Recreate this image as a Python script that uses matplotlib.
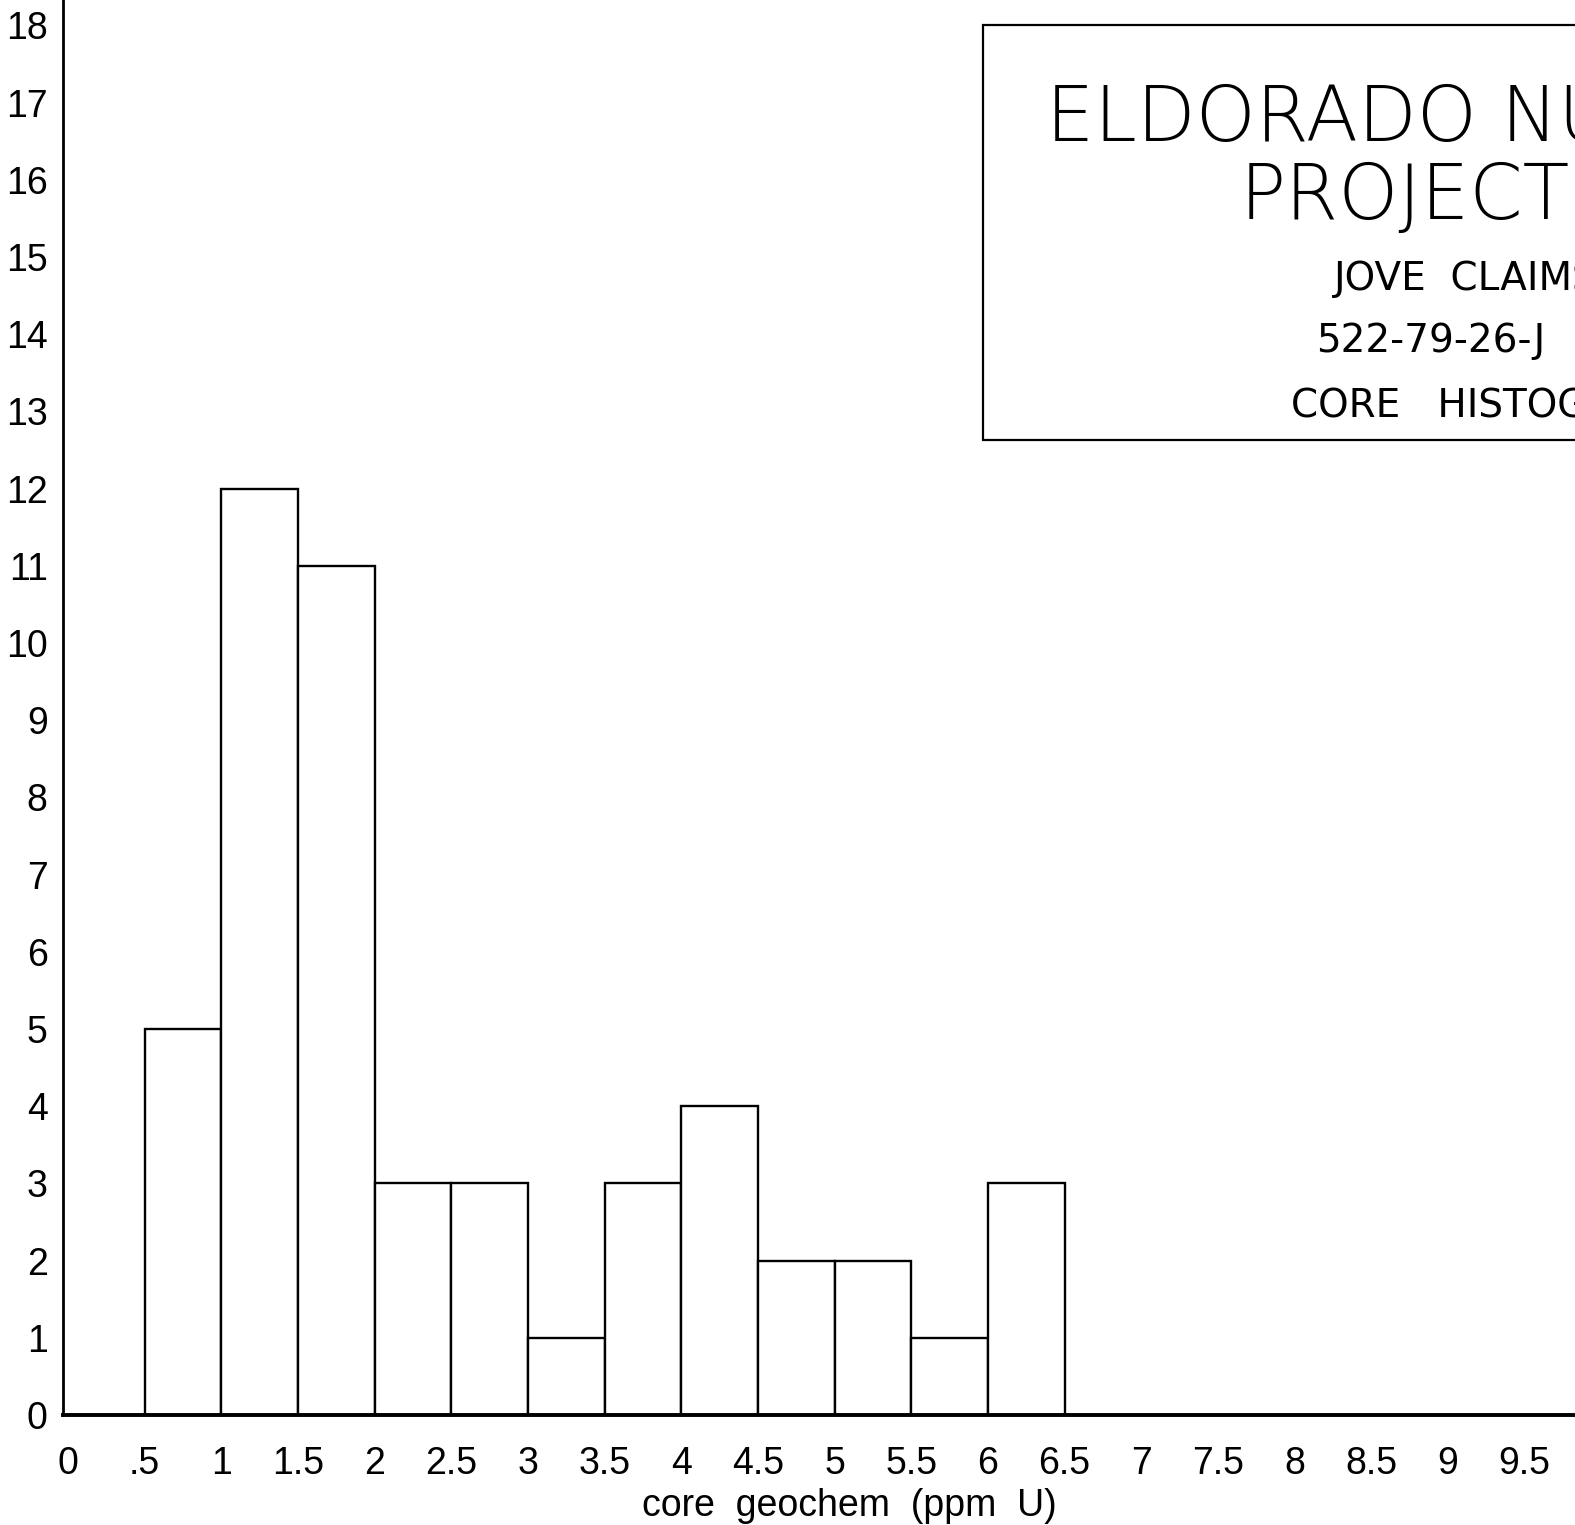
import matplotlib
matplotlib.use("Agg")
import matplotlib.pyplot as plt
from matplotlib.patches import Rectangle

# Histogram of core geochemistry (ppm U), bins 0.5 ppm wide
bin_edges = [0, 0.5, 1, 1.5, 2, 2.5, 3, 3.5, 4, 4.5, 5, 5.5, 6, 6.5]
counts = [0, 5, 12, 11, 3, 3, 1, 3, 4, 2, 2, 1, 3]

x_ticks = [0, 0.5, 1, 1.5, 2, 2.5, 3, 3.5, 4, 4.5, 5, 5.5, 6, 6.5, 7, 7.5, 8, 8.5, 9, 9.5]
x_tick_labels = ["0", ".5", "1", "1.5", "2", "2.5", "3", "3.5", "4", "4.5", "5",
                 "5.5", "6", "6.5", "7", "7.5", "8", "8.5", "9", "9.5"]
y_ticks = list(range(0, 19))
y_tick_labels = [str(v) for v in y_ticks]

title_lines = ["ELDORADO NUCLEAR", "PROJECT"]
info_lines = ["JOVE  CLAIMS", "522-79-26-J", "CORE   HISTOGRAM"]
x_label = "core  geochem  (ppm  U)"

label_font = ["Liberation Sans", "DejaVu Sans"]

W, H = 1575, 1525
fig = plt.figure(figsize=(W / 100, H / 100), dpi=100)
fig.patch.set_facecolor("white")

ax = fig.add_axes([63 / W, (H - 1415) / H, 1 - 63 / W, 1415 / H])
ax.set_facecolor("white")

widths = [bin_edges[i + 1] - bin_edges[i] for i in range(len(counts))]
ax.bar(bin_edges[:-1], counts, width=widths, align="edge",
       facecolor="white", edgecolor="black", linewidth=1.7, zorder=2)

ax.set_xlim(-0.033, 9.83)
ax.set_ylim(0, 18.33)

ax.set_xticks(x_ticks)
ax.set_xticklabels(x_tick_labels, family=label_font, fontsize=27)
ax.set_yticks(y_ticks)
ax.set_yticklabels(y_tick_labels, family=label_font, fontsize=27)
ax.tick_params(axis="both", length=0)
ax.tick_params(axis="x", pad=22)
ax.tick_params(axis="y", pad=11)

for side in ("top", "right"):
    ax.spines[side].set_visible(False)
ax.spines["left"].set_linewidth(2.0)
ax.spines["bottom"].set_linewidth(2.8)

ax.set_xlabel(x_label, fontsize=27, family=label_font, labelpad=5)
ax.xaxis.label.set_x((849 - 63) / (W - 63))

# Title block in the upper right; its text runs off the right edge of the sheet
box_left, box_top, box_bottom = 983 / W, 1 - 25 / H, 1 - 440 / H
fig.patches.append(Rectangle((box_left, box_bottom), 0.5, box_top - box_bottom,
                             transform=fig.transFigure, facecolor="white",
                             edgecolor="black", linewidth=1.6, zorder=5))

fig.text(1046 / W, 1 - 120 / H, title_lines[0], ha="left", va="center",
         fontsize=55, fontweight="light", zorder=6)
fig.text(1240 / W, 1 - 198 / H, title_lines[1], ha="left", va="center",
         fontsize=55, fontweight="light", zorder=6)

info_x = [1334, 1316, 1291]
info_y = [279, 341, 407]
for txt, xx, yy in zip(info_lines, info_x, info_y):
    fig.text(xx / W, 1 - yy / H, txt, ha="left", va="center",
             fontsize=28, zorder=6)

fig.savefig("out.png", dpi=100, facecolor="white")
